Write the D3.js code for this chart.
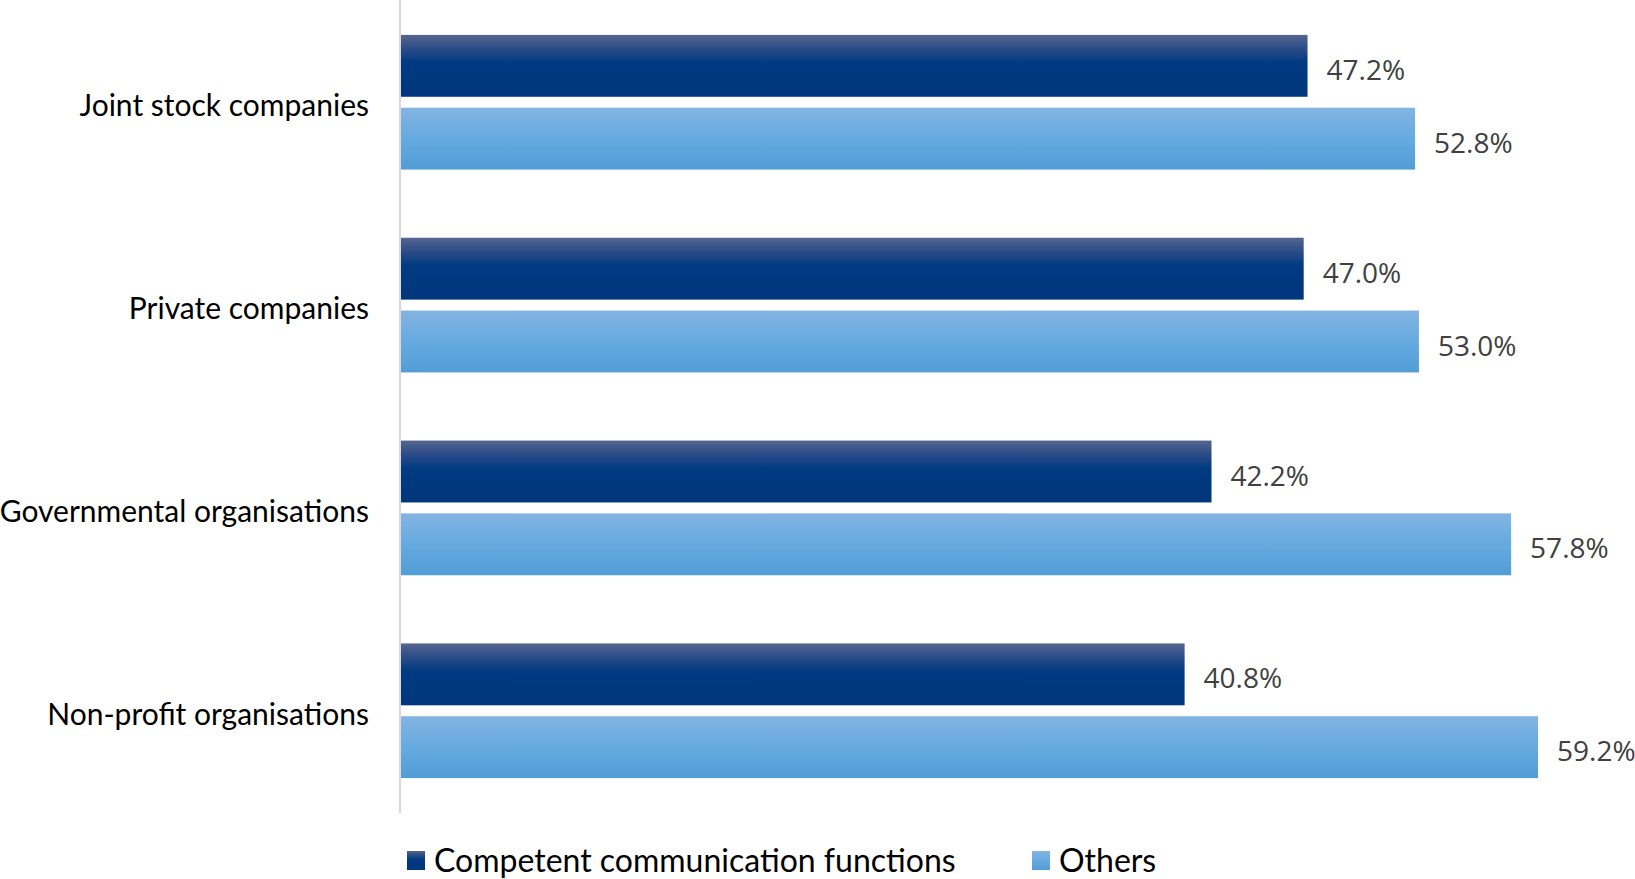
<!DOCTYPE html>
<html>
<head>
<meta charset="utf-8">
<script src="https://cdn.jsdelivr.net/npm/d3@7"></script>
<style>
  html, body { margin: 0; padding: 0; background: #ffffff; }
  svg { display: block; }
</style>
</head>
<body>
<svg id="chart" width="1635" height="879"></svg>
<script>
// Share of respondents by organisation type
const categories = ["Joint stock companies", "Private companies", "Governmental organisations", "Non-profit organisations"];
const seriesNames = ["Competent communication functions", "Others"];
const competentValues = [47.2, 47.0, 42.2, 40.8];
const otherValues = [52.8, 53.0, 57.8, 59.2];

const seriesValues = [competentValues, otherValues];
const rows = categories.map((c, i) => ({
  category: c,
  values: seriesNames.map((s, j) => ({ series: s, value: seriesValues[j][i] }))
}));

const svg = d3.select("#chart");
const axisX = 401, plotTop = 0, plotBottom = 813, barEndMax = 1538;

const x = d3.scaleLinear()
  .domain([0, d3.max(seriesValues.flat())])
  .range([axisX, barEndMax]);

const y = d3.scaleBand()
  .domain(categories)
  .range([plotTop, plotBottom])
  .paddingInner(0.336)
  .paddingOuter(0.172);

const ySub = d3.scaleBand()
  .domain(seriesNames)
  .range([0, y.bandwidth()])
  .paddingInner(0.15);

// gradients
const defs = svg.append("defs");
const gDark = defs.append("linearGradient").attr("id", "gradDark")
  .attr("x1", 0).attr("y1", 0).attr("x2", 0).attr("y2", 1);
gDark.append("stop").attr("offset", "0%").attr("stop-color", "#56658f");
gDark.append("stop").attr("offset", "20%").attr("stop-color", "#2f4e88");
gDark.append("stop").attr("offset", "45%").attr("stop-color", "#003a80");
gDark.append("stop").attr("offset", "100%").attr("stop-color", "#00367c");

const gLight = defs.append("linearGradient").attr("id", "gradLight")
  .attr("x1", 0).attr("y1", 0).attr("x2", 0).attr("y2", 1);
gLight.append("stop").attr("offset", "0%").attr("stop-color", "#83b4e2");
gLight.append("stop").attr("offset", "50%").attr("stop-color", "#66aae0");
gLight.append("stop").attr("offset", "100%").attr("stop-color", "#519dd5");

const fills = { "Competent communication functions": "url(#gradDark)", "Others": "url(#gradLight)" };

// bars
const groups = svg.append("g").selectAll("g")
  .data(rows)
  .join("g")
  .attr("transform", d => `translate(0,${y(d.category)})`);

groups.selectAll("rect")
  .data(d => d.values)
  .join("rect")
  .attr("x", x(0))
  .attr("y", d => ySub(d.series))
  .attr("width", d => x(d.value) - x(0))
  .attr("height", ySub.bandwidth())
  .attr("fill", d => fills[d.series]);

groups.selectAll("text.value")
  .data(d => d.values)
  .join("text")
  .attr("class", "value")
  .attr("x", d => x(d.value) + 19)
  .attr("y", d => ySub(d.series) + ySub.bandwidth() / 2 + 4)
  .attr("dy", "0.36em")
  .attr("font-family", "'Open Sans', sans-serif")
  .attr("font-size", 28)
  .attr("fill", "#404040")
  .text(d => d.value.toFixed(1) + "%");

// vertical category axis
const yAxis = svg.append("g")
  .attr("transform", `translate(${axisX - 1},0)`)
  .call(d3.axisLeft(y).tickSize(0).tickPadding(31));
yAxis.select(".domain").attr("stroke", "#d9d9d9").attr("stroke-width", 2)
  .attr("d", `M0,${plotTop}V${plotBottom}`);
yAxis.selectAll("text")
  .attr("dy", "0.46em")
  .attr("font-family", "Lato, 'Open Sans', sans-serif")
  .attr("font-size", 30)
  .attr("fill", "#000000");

// legend
const legendItems = [
  { name: seriesNames[0], x: 407 },
  { name: seriesNames[1], x: 1032 }
];
const legend = svg.append("g").selectAll("g")
  .data(legendItems)
  .join("g")
  .attr("transform", d => `translate(${d.x},851)`);
legend.append("rect")
  .attr("width", 18).attr("height", 19)
  .attr("fill", d => fills[d.name]);
legend.append("text")
  .attr("x", 27).attr("y", 21)
  .attr("font-family", "Lato, 'Open Sans', sans-serif")
  .attr("font-size", 32)
  .attr("fill", "#000000")
  .text(d => d.name);
</script>
</body>
</html>
